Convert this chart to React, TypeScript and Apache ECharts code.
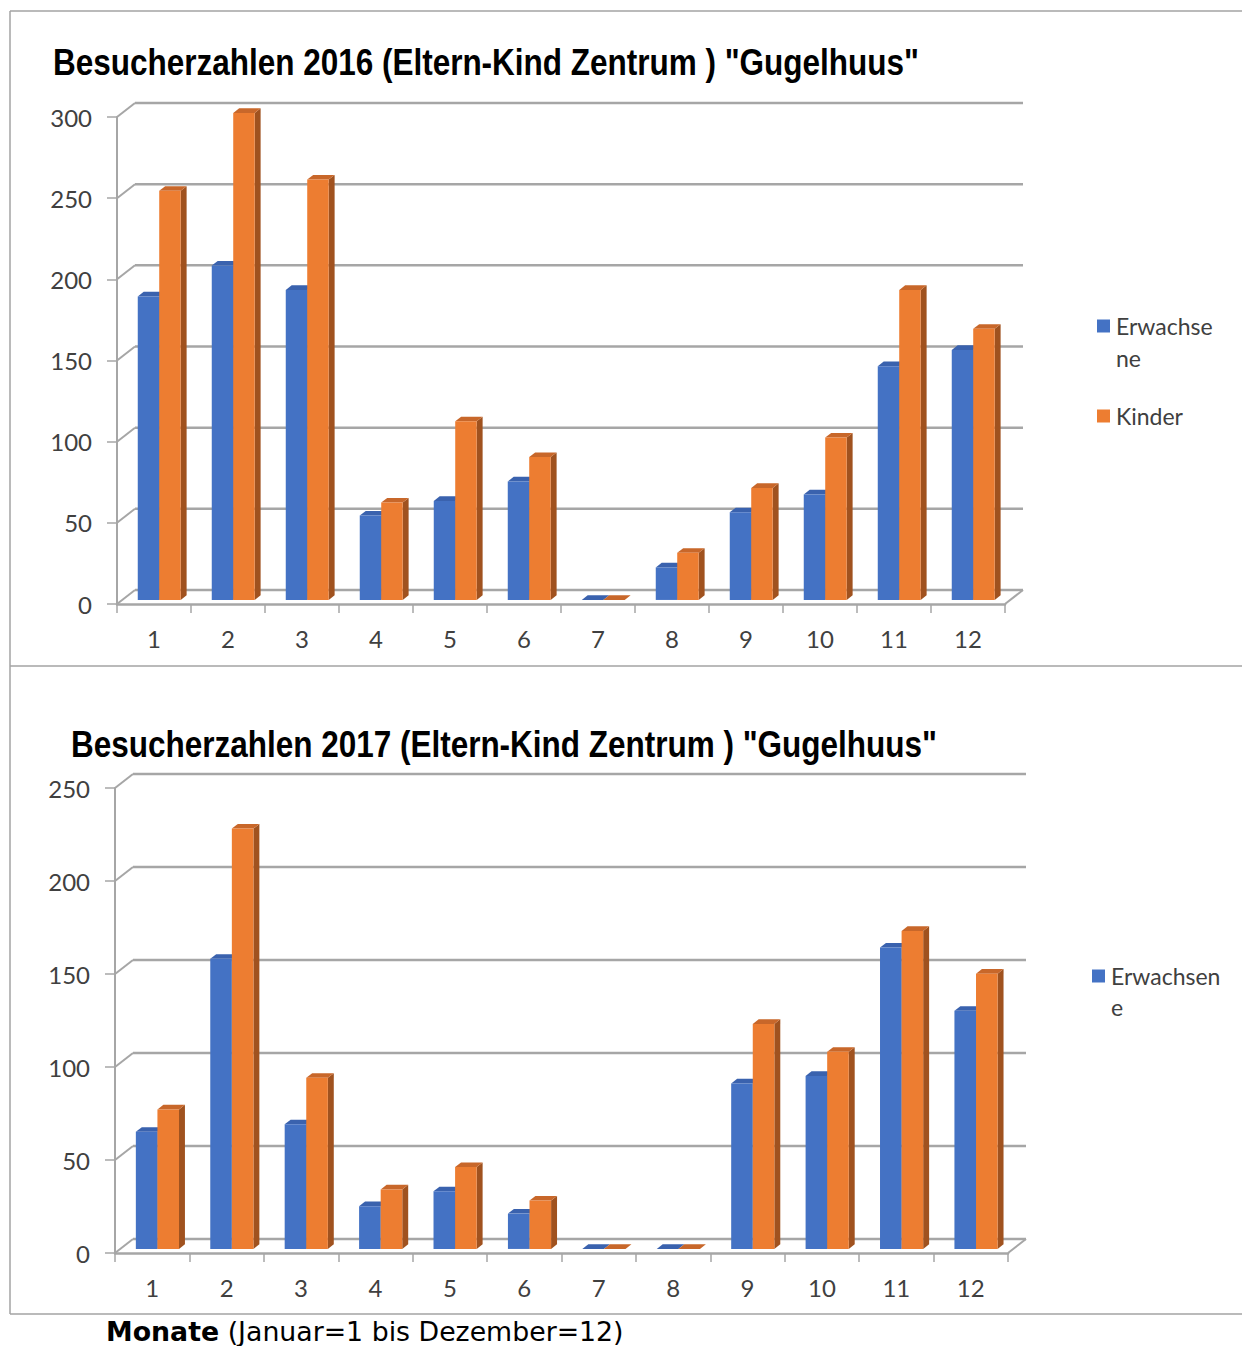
import React, { useEffect, useRef } from "react";
import * as echarts from "echarts";

// ---------- data ----------
const months = ["1", "2", "3", "4", "5", "6", "7", "8", "9", "10", "11", "12"];
const seriesNames = ["Erwachsene", "Kinder"];
const adults2016 = [187, 206, 191, 52, 61, 73, 0, 20, 54, 65, 144, 154];
const children2016 = [252, 300, 259, 60, 110, 88, 0, 29, 69, 100, 191, 167];
const adults2017 = [63, 156, 67, 23, 31, 19, 0, 0, 89, 93, 162, 128];
const children2017 = [75, 226, 92, 32, 44, 26, 0, 0, 121, 106, 171, 148];
const yTicks2016 = [0, 50, 100, 150, 200, 250, 300];
const yTicks2017 = [0, 50, 100, 150, 200, 250];
const title2016 = 'Besucherzahlen 2016 (Eltern-Kind Zentrum ) "Gugelhuus"';
const title2017 = 'Besucherzahlen 2017 (Eltern-Kind Zentrum ) "Gugelhuus"';
const legend2016 = [["Erwachse", "ne"], ["Kinder"]];
const legend2017 = [["Erwachsen", "e"]];
const footerBold = "Monate";
const footerRest = " (Januar=1 bis Dezember=12)";

// ---------- style ----------
const BLUE = { front: "#4472C4", top: "#3A62AE", side: "#2F5597" };
const ORANGE = { front: "#ED7D31", top: "#C8672A", side: "#A0521F" };
const PALETTE = [BLUE, ORANGE];
const GRID_COLOR = "#A6A6A6";
const FRAME_COLOR = "#A3A3A3";
const LABEL_COLOR = "#404040";
const DX = 18;
const DY = -14;
const FACE = 0.29; // depth position of bar front face
const DEPTH = 0.33; // bar depth (fraction of wall depth)
const BARW = 0.29; // bar width (fraction of band)
const AXIS_FONT = "Lato, 'Open Sans', sans-serif";
const TITLE_FONT = "'Liberation Sans', Arial, sans-serif";
const TITLE_SCALE = 0.851;
const FOOTER_FONT = "'DejaVu Sans', Verdana, sans-serif";

function barRender(sIdx: number) {
  const c = PALETTE[sIdx];
  return (params: any, api: any) => {
    const i = api.value(0);
    const v = api.value(1);
    const base = api.coord([i, 0]);
    const top = api.coord([i, v]);
    const band = api.size([1, 0])[0];
    const w = band * BARW;
    const sx = DX * FACE;
    const sy = DY * FACE;
    const dx = DX * DEPTH;
    const dy = DY * DEPTH;
    const x0 = base[0] + (sIdx === 0 ? -w : 0) + sx;
    const x1 = x0 + w;
    const yb = base[1] + sy;
    const yt = top[1] + sy;
    return {
      type: "group",
      children: [
        {
          type: "polygon",
          shape: { points: [[x1, yt], [x1 + dx, yt + dy], [x1 + dx, yb + dy], [x1, yb]] },
          style: { fill: c.side },
        },
        {
          type: "polygon",
          shape: { points: [[x0, yt], [x1, yt], [x1 + dx, yt + dy], [x0 + dx, yt + dy]] },
          style: { fill: c.top },
        },
        {
          type: "rect",
          shape: { x: x0, y: yt, width: w, height: Math.max(0, yb - yt) },
          style: { fill: c.front },
        },
      ],
    };
  };
}

function wallRender(params: any, api: any) {
  const t = api.value(1);
  const p = api.coord([0, t]);
  const cs = params.coordSys;
  const left = cs.x;
  const right = cs.x + cs.width;
  const y = p[1];
  const ls = { stroke: GRID_COLOR, lineWidth: 2.5 };
  const children: any[] = [
    { type: "line", shape: { x1: left, y1: y, x2: left + DX, y2: y + DY }, style: { stroke: GRID_COLOR, lineWidth: 2 } },
    { type: "line", shape: { x1: left + DX, y1: y + DY, x2: right + DX, y2: y + DY }, style: ls },
  ];
  if (t === 0) {
    children.push({ type: "line", shape: { x1: right, y1: y, x2: right + DX, y2: y + DY }, style: { stroke: GRID_COLOR, lineWidth: 2 } });
  }
  return { type: "group", children };
}

function axesFor(gridIndex: number, max: number) {
  const xAxis = {
    type: "category",
    gridIndex,
    data: months,
    axisLine: { lineStyle: { color: GRID_COLOR, width: 2.5 } },
    axisTick: { show: true, length: 9, lineStyle: { color: GRID_COLOR, width: 1.5 } },
    axisLabel: { margin: 22, fontFamily: AXIS_FONT, fontSize: 24, color: LABEL_COLOR },
    splitLine: { show: false },
  };
  const yAxis = {
    type: "value",
    gridIndex,
    min: 0,
    max,
    interval: 50,
    axisLine: { show: true, lineStyle: { color: GRID_COLOR, width: 2 } },
    axisTick: { show: true, length: 10, lineStyle: { color: GRID_COLOR, width: 1.5 } },
    axisLabel: { margin: 25, fontFamily: AXIS_FONT, fontSize: 24, color: LABEL_COLOR },
    splitLine: { show: false },
  };
  return { xAxis, yAxis };
}

function legendGraphics(lines: string[][], x: number, y: number, gap: number, lineH: number) {
  const els: any[] = [];
  let cy = y;
  lines.forEach((entry, k) => {
    els.push({
      type: "rect",
      shape: { x: x, y: cy - 6.5, width: 13, height: 13 },
      style: { fill: PALETTE[k].front },
    });
    entry.forEach((txt, j) => {
      els.push({
        type: "text",
        style: {
          x: x + 19,
          y: cy + j * lineH,
          text: txt,
          fontFamily: AXIS_FONT,
          fontSize: 23,
          fill: LABEL_COLOR,
          verticalAlign: "middle",
          align: "left",
        },
      });
    });
    cy += (entry.length - 1) * lineH + gap;
  });
  return els;
}

function titleGraphic(text: string, x: number, y: number) {
  return {
    type: "text",
    x,
    y,
    scaleX: TITLE_SCALE,
    style: {
      x: 0,
      y: 0,
      text,
      fontFamily: TITLE_FONT,
      fontWeight: "bold",
      fontSize: 37,
      fill: "#000",
      verticalAlign: "middle",
      align: "left",
    },
  };
}

export default function App() {
  const ref = useRef<HTMLDivElement>(null);
  useEffect(() => {
    if (!ref.current) return;
    const chart = echarts.init(ref.current, undefined, { renderer: "svg" });
    const a1 = axesFor(0, 300);
    const a2 = axesFor(1, 250);
    const mk = (arr: number[]) => arr.map((v, i) => [i, v]);
    const option: any = {
      animation: false,
      backgroundColor: "#ffffff",
      grid: [
        { left: 117, top: 117, width: 888, height: 487 },
        { left: 115, top: 788, width: 893, height: 465 },
      ],
      xAxis: [a1.xAxis, a2.xAxis],
      yAxis: [a1.yAxis, a2.yAxis],
      series: [
        { type: "custom", name: "wall2016", xAxisIndex: 0, yAxisIndex: 0, z: 1, renderItem: wallRender, data: yTicks2016.map((t) => [0, t]), silent: true },
        { type: "custom", name: seriesNames[0], xAxisIndex: 0, yAxisIndex: 0, z: 3, renderItem: barRender(0), data: mk(adults2016) },
        { type: "custom", name: seriesNames[1], xAxisIndex: 0, yAxisIndex: 0, z: 3, renderItem: barRender(1), data: mk(children2016) },
        { type: "custom", name: "wall2017", xAxisIndex: 1, yAxisIndex: 1, z: 1, renderItem: wallRender, data: yTicks2017.map((t) => [0, t]), silent: true },
        { type: "custom", name: seriesNames[0], xAxisIndex: 1, yAxisIndex: 1, z: 3, renderItem: barRender(0), data: mk(adults2017) },
        { type: "custom", name: seriesNames[1], xAxisIndex: 1, yAxisIndex: 1, z: 3, renderItem: barRender(1), data: mk(children2017) },
      ],
      graphic: [
        // frames
        { type: "line", shape: { x1: 10, y1: 11, x2: 1242, y2: 11 }, style: { stroke: FRAME_COLOR, lineWidth: 1.5 } },
        { type: "line", shape: { x1: 10, y1: 11, x2: 10, y2: 1314 }, style: { stroke: FRAME_COLOR, lineWidth: 1.5 } },
        { type: "line", shape: { x1: 10, y1: 666, x2: 1242, y2: 666 }, style: { stroke: FRAME_COLOR, lineWidth: 1.5 } },
        { type: "line", shape: { x1: 10, y1: 1314, x2: 1242, y2: 1314 }, style: { stroke: FRAME_COLOR, lineWidth: 1.5 } },
        // titles
        titleGraphic(title2016, 53, 62),
        titleGraphic(title2017, 71, 744),
        ...legendGraphics(legend2016, 1097, 326, 58, 32),
        ...legendGraphics(legend2017, 1092, 976, 58, 31),
        {
          type: "text",
          x: 106,
          y: 1332,
          scaleX: 1.03,
          style: {
            x: 0, y: 0,
            text: "{b|" + footerBold + "}" + footerRest,
            fontFamily: FOOTER_FONT,
            fontSize: 26, lineHeight: 26, fill: "#000", verticalAlign: "middle",
            rich: { b: { fontWeight: "bold", fontFamily: FOOTER_FONT, fontSize: 26, lineHeight: 26, fill: "#000" } },
          },
        },
      ],
    };
    chart.setOption(option);
    return () => chart.dispose();
  }, []);
  return <div ref={ref} style={{ position: "absolute", left: 0, top: 0, width: 1242, height: 1346 }} />;
}
